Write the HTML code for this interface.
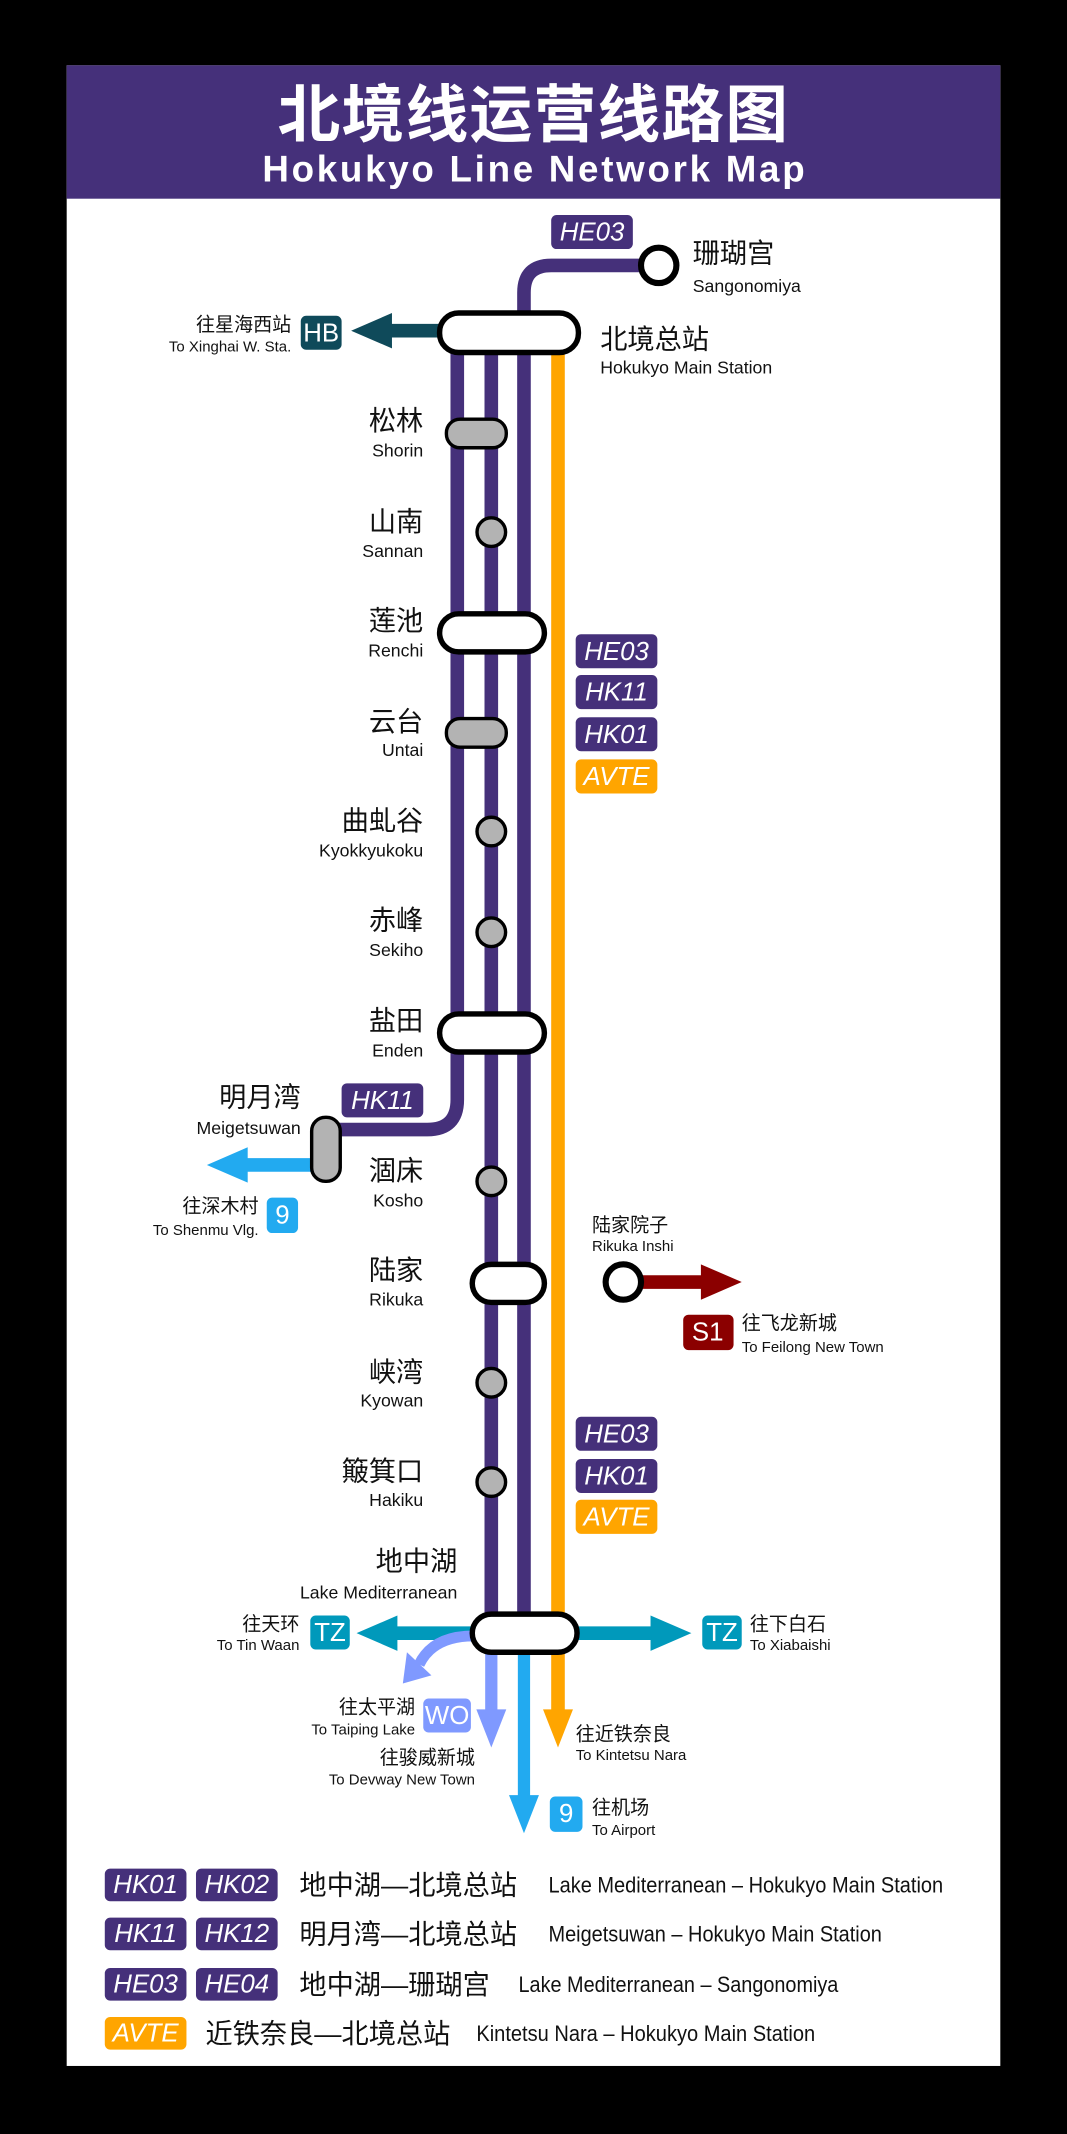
<!DOCTYPE html>
<html><head><meta charset="utf-8"><style>
html,body{margin:0;padding:0;background:#000;}
svg{display:block}
text{font-family:"Liberation Sans Narrow","Liberation Sans","Noto Sans CJK SC",sans-serif;}
.cn{font-family:"Liberation Sans","Noto Sans CJK SC",sans-serif;font-size:20px;fill:#111;}
.en{font-size:13px;fill:#111;}
.bd{font-size:19px;fill:#fff;font-style:italic;}
.bn{font-size:19px;fill:#fff;}
</style></head><body>
<svg width="1067" height="2134" viewBox="0 0 784 1568" xmlns="http://www.w3.org/2000/svg">
<rect x="0" y="0" width="784" height="1568" fill="#000"/>
<rect x="49" y="48" width="686" height="1470" fill="#fff"/>
<rect x="49" y="48" width="686" height="98" fill="#45307a"/>
<text x="392" y="85" text-anchor="middle" dominant-baseline="central" style="font-family:'Liberation Sans','Noto Sans CJK SC',sans-serif;font-size:46px;font-weight:bold;fill:#fff;letter-spacing:1px">北境线运营线路图</text>
<text x="393" y="124" text-anchor="middle" dominant-baseline="central" style="font-family:'Liberation Sans',sans-serif;font-size:27px;font-weight:bold;fill:#fff;letter-spacing:2px">Hokukyo Line Network Map</text>

<g fill="none" stroke-width="10">
<path d="M336 243 V808 Q336 830 314 830 H240" stroke="#45307a"/>
<path d="M361 243 V1200" stroke="#45307a"/>
<path d="M385 1200 V215 Q385 195 405 195 H484" stroke="#45307a"/>
<path d="M410 258 V1262" stroke="#ffa500"/>
</g>
<g>
<path d="M330 243 H282" stroke="#0f4a5a" stroke-width="10"/>
<polygon points="258,243 288,230 288,256" fill="#0f4a5a"/>
<path d="M230 856 H176" stroke="#22aaf0" stroke-width="10"/>
<polygon points="152,856 182,843 182,869" fill="#22aaf0"/>
<path d="M470 942 H520" stroke="#8b0000" stroke-width="10"/>
<polygon points="545,942 515,929 515,955" fill="#8b0000"/>
<path d="M350 1200 H286" stroke="#0099bb" stroke-width="10"/>
<polygon points="262,1200 292,1187 292,1213" fill="#0099bb"/>
<path d="M420 1200 H484" stroke="#0099bb" stroke-width="10"/>
<polygon points="508,1200 478,1187 478,1213" fill="#0099bb"/>
<path d="M348 1202 Q318 1202 308 1223" fill="none" stroke="#7f99ff" stroke-width="8"/>
<polygon points="296,1237 317,1231 299,1214" fill="#7f99ff"/>
<path d="M361 1205 V1262" stroke="#7f99ff" stroke-width="9"/>
<polygon points="361,1284 350,1256 372,1256" fill="#7f99ff"/>
<path d="M385 1205 V1325" stroke="#22aaf0" stroke-width="9"/>
<polygon points="385,1347 374,1319 396,1319" fill="#22aaf0"/>
<polygon points="410,1284 399,1256 421,1256" fill="#ffa500"/>
</g>
<g stroke="#000">
<circle cx="484" cy="195" r="13" fill="#fff" stroke-width="4.5"/>
<rect x="323" y="230" width="102" height="29" rx="14" fill="#fff" stroke-width="4"/>
<rect x="328" y="308" width="44" height="21" rx="10" fill="#b3b3b3" stroke-width="2.5"/>
<circle cx="361" cy="391" r="10.5" fill="#b3b3b3" stroke-width="2.5"/>
<rect x="323" y="451" width="77" height="28" rx="14" fill="#fff" stroke-width="4"/>
<rect x="328" y="528" width="44" height="21" rx="10" fill="#b3b3b3" stroke-width="2.5"/>
<circle cx="361" cy="611" r="10.5" fill="#b3b3b3" stroke-width="2.5"/>
<circle cx="361" cy="685" r="10.5" fill="#b3b3b3" stroke-width="2.5"/>
<rect x="323" y="745" width="77" height="28" rx="14" fill="#fff" stroke-width="4"/>
<rect x="229" y="821" width="21" height="47" rx="10" fill="#b3b3b3" stroke-width="2.5"/>
<circle cx="361" cy="868" r="10.5" fill="#b3b3b3" stroke-width="2.5"/>
<rect x="347" y="929" width="53" height="28" rx="14" fill="#fff" stroke-width="4"/>
<circle cx="458" cy="942" r="13" fill="#fff" stroke-width="4.5"/>
<circle cx="361" cy="1016" r="10.5" fill="#b3b3b3" stroke-width="2.5"/>
<circle cx="361" cy="1089" r="10.5" fill="#b3b3b3" stroke-width="2.5"/>
<rect x="347" y="1186" width="77" height="28" rx="14" fill="#fff" stroke-width="4"/>
</g>
<g>
<rect x="405" y="158" width="60" height="25" rx="4" fill="#45307a"/><text class="bd" x="435" y="171" text-anchor="middle" dominant-baseline="central">HE03</text>
<rect x="423" y="466" width="60" height="25" rx="4" fill="#45307a"/><text class="bd" x="453" y="479" text-anchor="middle" dominant-baseline="central">HE03</text>
<rect x="423" y="496" width="60" height="25" rx="4" fill="#45307a"/><text class="bd" x="453" y="509" text-anchor="middle" dominant-baseline="central">HK11</text>
<rect x="423" y="527" width="60" height="25" rx="4" fill="#45307a"/><text class="bd" x="453" y="540" text-anchor="middle" dominant-baseline="central">HK01</text>
<rect x="423" y="558" width="60" height="25" rx="4" fill="#ffa500"/><text class="bd" x="453" y="571" text-anchor="middle" dominant-baseline="central">AVTE</text>
<rect x="251" y="796" width="60" height="25" rx="4" fill="#45307a"/><text class="bd" x="281" y="809" text-anchor="middle" dominant-baseline="central">HK11</text>
<rect x="423" y="1041" width="60" height="25" rx="4" fill="#45307a"/><text class="bd" x="453" y="1054" text-anchor="middle" dominant-baseline="central">HE03</text>
<rect x="423" y="1072" width="60" height="25" rx="4" fill="#45307a"/><text class="bd" x="453" y="1085" text-anchor="middle" dominant-baseline="central">HK01</text>
<rect x="423" y="1102" width="60" height="25" rx="4" fill="#ffa500"/><text class="bd" x="453" y="1115" text-anchor="middle" dominant-baseline="central">AVTE</text>
<rect x="221" y="232" width="30" height="25" rx="4" fill="#0f4a5a"/><text class="bn" x="236" y="245" text-anchor="middle" dominant-baseline="central">HB</text>
<rect x="196" y="880" width="23" height="26" rx="4" fill="#22aaf0"/><text class="bn" x="207.5" y="893" text-anchor="middle" dominant-baseline="central">9</text>
<rect x="502" y="966" width="37" height="26" rx="4" fill="#8b0000"/><text class="bn" x="520" y="979" text-anchor="middle" dominant-baseline="central">S1</text>
<rect x="228" y="1187" width="29" height="25" rx="4" fill="#0099bb"/><text class="bn" x="242.5" y="1200" text-anchor="middle" dominant-baseline="central">TZ</text>
<rect x="516" y="1187" width="29" height="25" rx="4" fill="#0099bb"/><text class="bn" x="530.5" y="1200" text-anchor="middle" dominant-baseline="central">TZ</text>
<rect x="311" y="1248" width="35" height="25" rx="4" fill="#7f99ff"/><text class="bn" x="328.5" y="1261" text-anchor="middle" dominant-baseline="central">WO</text>
<rect x="404" y="1320" width="24" height="26" rx="4" fill="#22aaf0"/><text class="bn" x="416" y="1333" text-anchor="middle" dominant-baseline="central">9</text>
</g>
<g dominant-baseline="central">
<text class="cn" x="509" y="186">珊瑚宫</text><text class="en" x="509" y="210">Sangonomiya</text>
<text class="cn" x="441" y="249">北境总站</text><text class="en" x="441" y="270">Hokukyo Main Station</text>
<g text-anchor="end">
<text class="cn" style="font-size:14px" x="214" y="239">往星海西站</text><text class="en" style="font-size:11px" x="214" y="255">To Xinghai W. Sta.</text>
<text class="cn" x="311" y="309">松林</text><text class="en" x="311" y="331">Shorin</text>
<text class="cn" x="311" y="383">山南</text><text class="en" x="311" y="405">Sannan</text>
<text class="cn" x="311" y="456">莲池</text><text class="en" x="311" y="478">Renchi</text>
<text class="cn" x="311" y="530">云台</text><text class="en" x="311" y="551">Untai</text>
<text class="cn" x="311" y="603">曲虬谷</text><text class="en" x="311" y="625">Kyokkyukoku</text>
<text class="cn" x="311" y="676">赤峰</text><text class="en" x="311" y="698">Sekiho</text>
<text class="cn" x="311" y="750">盐田</text><text class="en" x="311" y="772">Enden</text>
<text class="cn" x="221" y="806">明月湾</text><text class="en" x="221" y="829">Meigetsuwan</text>
<text class="cn" x="311" y="860">涸床</text><text class="en" x="311" y="882">Kosho</text>
<text class="cn" style="font-size:14px" x="190" y="887">往深木村</text><text class="en" style="font-size:11px" x="190" y="904">To Shenmu Vlg.</text>
<text class="cn" x="311" y="933">陆家</text><text class="en" x="311" y="955">Rikuka</text>
<text class="cn" x="311" y="1008">峡湾</text><text class="en" x="311" y="1029">Kyowan</text>
<text class="cn" x="311" y="1081">簸箕口</text><text class="en" x="311" y="1102">Hakiku</text>
<text class="cn" x="336" y="1147">地中湖</text><text class="en" x="336" y="1170">Lake Mediterranean</text>
<text class="cn" style="font-size:14px" x="220" y="1194">往天环</text><text class="en" style="font-size:11px" x="220" y="1209">To Tin Waan</text>
<text class="cn" style="font-size:14px" x="305" y="1255">往太平湖</text><text class="en" style="font-size:11px" x="305" y="1271">To Taiping Lake</text>
<text class="cn" style="font-size:14px" x="349" y="1292">往骏威新城</text><text class="en" style="font-size:11px" x="349" y="1308">To Devway New Town</text>
</g>
<text class="cn" style="font-size:14px" x="435" y="901">陆家院子</text><text class="en" style="font-size:11px" x="435" y="916">Rikuka Inshi</text>
<text class="cn" style="font-size:14px" x="545" y="973">往飞龙新城</text><text class="en" style="font-size:11px" x="545" y="990">To Feilong New Town</text>
<text class="cn" style="font-size:14px" x="551" y="1194">往下白石</text><text class="en" style="font-size:11px" x="551" y="1209">To Xiabaishi</text>
<text class="cn" style="font-size:14px" x="423" y="1275">往近铁奈良</text><text class="en" style="font-size:11px" x="423" y="1290">To Kintetsu Nara</text>
<text class="cn" style="font-size:14px" x="435" y="1329">往机场</text><text class="en" style="font-size:11px" x="435" y="1345">To Airport</text>
</g>
<g dominant-baseline="central">
<rect x="77" y="1373" width="60" height="24" rx="4" fill="#45307a"/><text class="bd" x="107" y="1385" text-anchor="middle">HK01</text>
<rect x="144" y="1373" width="60" height="24" rx="4" fill="#45307a"/><text class="bd" x="174" y="1385" text-anchor="middle">HK02</text>
<text class="cn" x="220" y="1385">地中湖—北境总站</text><text class="en" style="font-size:16px" x="403" y="1385" textLength="290" lengthAdjust="spacingAndGlyphs">Lake Mediterranean – Hokukyo Main Station</text>
<rect x="77" y="1409" width="60" height="24" rx="4" fill="#45307a"/><text class="bd" x="107" y="1421" text-anchor="middle">HK11</text>
<rect x="144" y="1409" width="60" height="24" rx="4" fill="#45307a"/><text class="bd" x="174" y="1421" text-anchor="middle">HK12</text>
<text class="cn" x="220" y="1421">明月湾—北境总站</text><text class="en" style="font-size:16px" x="403" y="1421" textLength="245" lengthAdjust="spacingAndGlyphs">Meigetsuwan – Hokukyo Main Station</text>
<rect x="77" y="1446" width="60" height="24" rx="4" fill="#45307a"/><text class="bd" x="107" y="1458" text-anchor="middle">HE03</text>
<rect x="144" y="1446" width="60" height="24" rx="4" fill="#45307a"/><text class="bd" x="174" y="1458" text-anchor="middle">HE04</text>
<text class="cn" x="220" y="1458">地中湖—珊瑚宫</text><text class="en" style="font-size:16px" x="381" y="1458" textLength="235" lengthAdjust="spacingAndGlyphs">Lake Mediterranean – Sangonomiya</text>
<rect x="77" y="1482" width="60" height="24" rx="4" fill="#ffa500"/><text class="bd" x="107" y="1494" text-anchor="middle">AVTE</text>
<text class="cn" x="151" y="1494">近铁奈良—北境总站</text><text class="en" style="font-size:16px" x="350" y="1494" textLength="249" lengthAdjust="spacingAndGlyphs">Kintetsu Nara – Hokukyo Main Station</text>
</g>
</svg>
</body></html>
